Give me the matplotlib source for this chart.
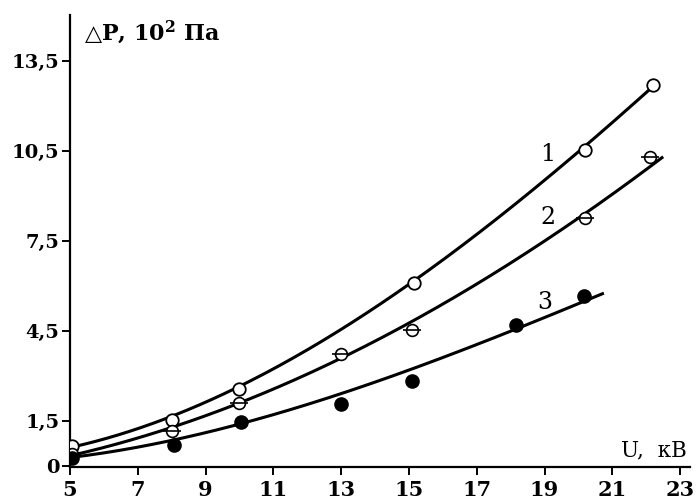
import matplotlib
matplotlib.use("Agg")
import matplotlib.pyplot as plt
import numpy as np

plt.rcParams["font.family"] = ["DejaVu Serif"]
plt.rcParams["mathtext.fontset"] = "custom"
plt.rcParams["mathtext.rm"] = "DejaVu Serif:bold"
plt.rcParams["mathtext.it"] = "DejaVu Serif:bold"
plt.rcParams["mathtext.bf"] = "DejaVu Serif:bold"

# measured points: voltage U (kV) and pressure drop (10^2 Pa)
u1 = [5.05, 8.0, 10.0, 15.15, 20.2, 22.2]
p1 = [0.64, 1.53, 2.56, 6.09, 10.54, 12.72]
u2 = [5.05, 8.0, 10.0, 13.0, 15.1, 20.2, 22.1]
p2 = [0.38, 1.14, 2.1, 3.71, 4.54, 8.27, 10.31]
u3 = [5.05, 8.06, 10.05, 13.0, 15.1, 18.15, 20.15]
p3 = [0.25, 0.68, 1.44, 2.06, 2.82, 4.7, 5.66]

# smoothed approximation lines
fit_u1 = [5.05, 7, 9, 11, 13, 15, 17.6, 20.2, 22.2]
fit_p1 = [0.64, 1.2, 2.07, 3.28, 4.55, 6.03, 8.34, 10.54, 12.72]
fit_u2 = [5.05, 7, 9, 11, 13, 15, 17.6, 20.2, 22.5]
fit_p2 = [0.42, 0.81, 1.58, 2.62, 3.67, 4.77, 6.48, 8.3, 10.38]
fit_u3 = [5.05, 7, 9, 11, 13, 15, 16.05, 18.1, 20.75]
fit_p3 = [0.29, 0.53, 1.19, 1.74, 2.35, 3.06, 3.7, 4.6, 5.73]

curve_labels = ["1", "2", "3"]
label_u = [19.1, 19.1, 19.0]
label_p = [10.4, 8.27, 5.43]

xticks = [5, 7, 9, 11, 13, 15, 17, 19, 21, 23]
yticks = [0, 1.5, 4.5, 7.5, 10.5, 13.5]
ytick_labels = ["0", "1,5", "4,5", "7,5", "10,5", "13,5"]

fig = plt.figure(figsize=(6.97, 5.04), dpi=100)
ax = fig.add_axes([0.1004, 0.0734, 0.89, 0.897])

for fu, fp in [(fit_u1, fit_p1), (fit_u2, fit_p2), (fit_u3, fit_p3)]:
    coef = np.polyfit(fu, fp, 3)
    xs = np.linspace(fu[0], fu[-1], 200)
    ax.plot(xs, np.polyval(coef, xs), color="black", lw=2.2, zorder=2,
            solid_capstyle="butt")

# markers: open, crossed, filled
ax.plot(u1, p1, "o", ms=9, mfc="white", mec="black", mew=1.3, ls="none", zorder=3)
ax.plot(u2, p2, "o", ms=8.5, mfc="white", mec="black", mew=1.2, ls="none", zorder=3)
ax.plot(u2, p2, "_", ms=13, mec="black", mew=1.2, ls="none", zorder=4)
ax.plot(u3, p3, "o", ms=9.5, mfc="black", mec="black", ls="none", zorder=3)

for lab, x, y in zip(curve_labels, label_u, label_p):
    ax.text(x, y, lab, fontsize=17, ha="center", va="center")

ax.set_xlim(5, 23.3)
ax.set_ylim(-0.05, 15.05)
ax.set_xticks(xticks)
ax.set_xticklabels([str(t) for t in xticks], fontsize=15, fontweight="bold")
ax.set_yticks(yticks)
ax.set_yticklabels(ytick_labels, fontsize=14, fontweight="bold")
ax.tick_params(axis="both", direction="out", length=6, width=1.4, color="black")
ax.tick_params(axis="x", pad=3)
ax.tick_params(axis="y", pad=1.5)

for side in ["top", "right"]:
    ax.spines[side].set_visible(False)
for side in ["left", "bottom"]:
    ax.spines[side].set_linewidth(1.6)

ax.text(0.022, 0.992, "△P, 10$^2$ Па", transform=ax.transAxes,
        fontsize=16, fontweight="bold", ha="left", va="top")
ax.text(0.995, 0.012, "U,  кВ", transform=ax.transAxes,
        fontsize=15.5, ha="right", va="bottom")

fig.savefig("out.png", dpi=100)
